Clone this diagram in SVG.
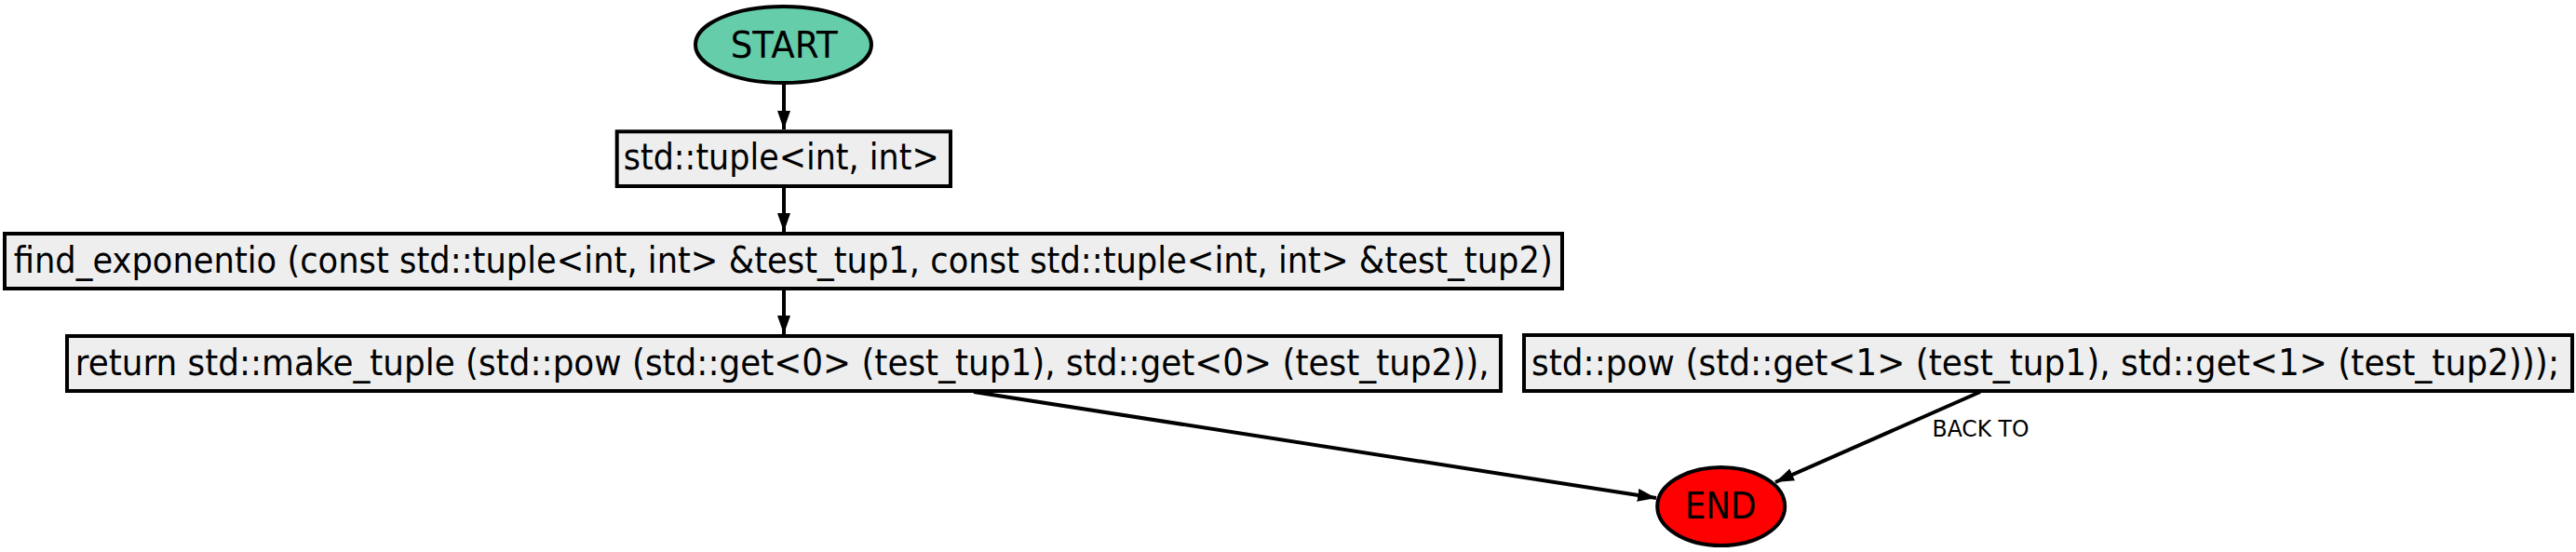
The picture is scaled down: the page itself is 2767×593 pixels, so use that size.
<svg xmlns="http://www.w3.org/2000/svg" width="2767" height="593" viewBox="0 0 2767 593">
<style>
.box{fill:#eeeeee;stroke:#000;stroke-width:4}
.t{font-family:"DejaVu Sans",Verdana,sans-serif;font-size:35.5px;fill:#000}
.lbl{font-family:"DejaVu Sans",Verdana,sans-serif;font-size:22.7px;fill:#000}
.edge{stroke:#000;stroke-width:4;fill:none;marker-end:url(#arr)}
</style>
<defs>
<marker id="arr" markerUnits="userSpaceOnUse" markerWidth="22" markerHeight="16" refX="20" refY="7" orient="auto" viewBox="0 0 22 14">
<path d="M0,0 L20,7 L0,14 z" fill="#000"/>
</marker>
</defs>
<rect width="2767" height="593" fill="#fff"/>
<g id="connectors">
<line class="edge" x1="842" y1="89" x2="842" y2="139"/>
<line class="edge" x1="842" y1="200" x2="842" y2="249"/>
<line class="edge" x1="842" y1="310" x2="842" y2="359"/>
<line class="edge" x1="1046" y1="421" x2="1779" y2="535"/>
<line class="edge" x1="2127" y1="421" x2="1907" y2="518"/>
<text class="lbl" transform="translate(2075.5,469.3) scale(1,1.07)" textLength="104" lengthAdjust="spacingAndGlyphs">BACK TO</text>
</g>
<g id="start">
<ellipse cx="841.5" cy="48" rx="94.5" ry="41" fill="#66cdaa" stroke="#000" stroke-width="4"/>
<text class="t" transform="translate(784.7,61.7) scale(1,1.1)" textLength="115" lengthAdjust="spacingAndGlyphs">START</text>
</g>
<g id="n1">
<rect class="box" x="662.7" y="141.3" width="358.3" height="58.7"/>
<text class="t" transform="translate(669.7,182) scale(1,1.08)" textLength="339" lengthAdjust="spacingAndGlyphs">std::tuple&lt;int, int&gt;</text>
</g>
<g id="n2">
<rect class="box" x="5" y="251" width="1673" height="59"/>
<text class="t" transform="translate(14.7,292.7) scale(1,1.08)" textLength="1653" lengthAdjust="spacingAndGlyphs">find_exponentio (const std::tuple&lt;int, int&gt; &amp;test_tup1, const std::tuple&lt;int, int&gt; &amp;test_tup2)</text>
</g>
<g id="n3">
<rect class="box" x="72" y="361" width="1540" height="59"/>
<text class="t" transform="translate(80.7,403) scale(1,1.08)" textLength="1519" lengthAdjust="spacingAndGlyphs">return std::make_tuple (std::pow (std::get&lt;0&gt; (test_tup1), std::get&lt;0&gt; (test_tup2)),</text>
</g>
<g id="n4">
<rect class="box" x="1637" y="360" width="1126" height="60"/>
<text class="t" transform="translate(1645,402.5) scale(1,1.08)" textLength="1104" lengthAdjust="spacingAndGlyphs">std::pow (std::get&lt;1&gt; (test_tup1), std::get&lt;1&gt; (test_tup2)));</text>
</g>
<g id="end">
<ellipse cx="1848.7" cy="544" rx="68.5" ry="42" fill="#ff0000" stroke="#000" stroke-width="4"/>
<text class="t" transform="translate(1809.7,557.3) scale(1,1.1)" textLength="77" lengthAdjust="spacingAndGlyphs">END</text>
</g>
</svg>
